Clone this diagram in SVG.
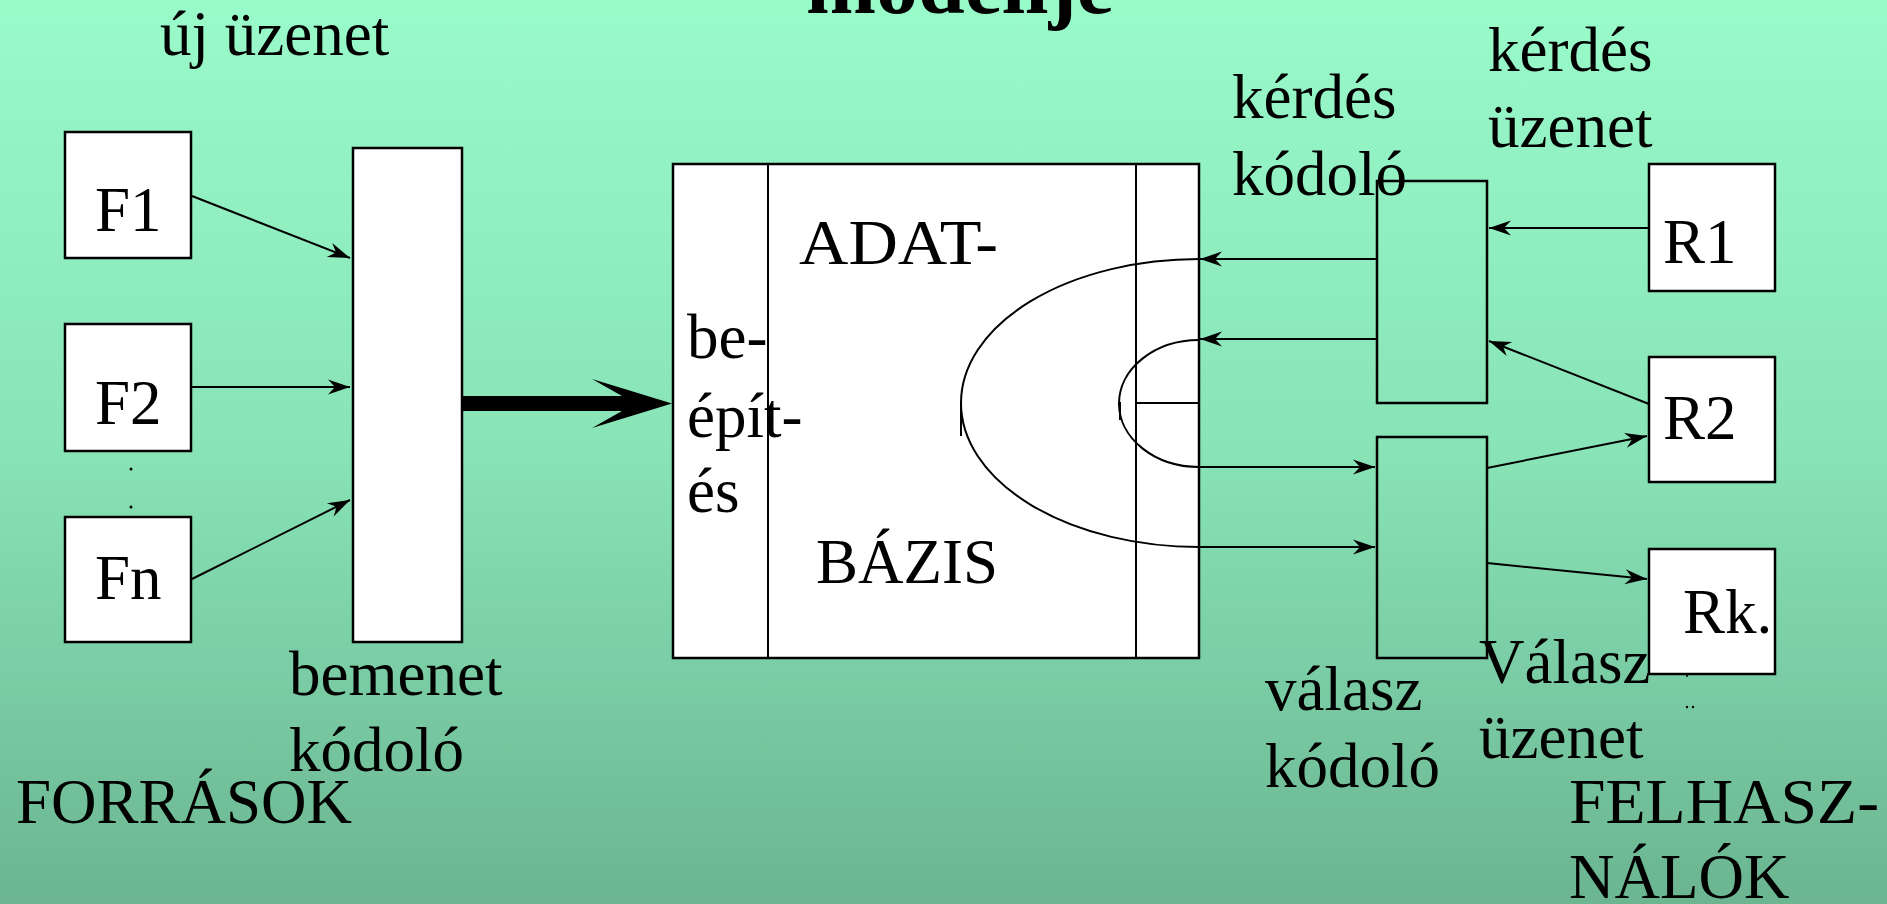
<svg xmlns="http://www.w3.org/2000/svg" width="1887" height="904" viewBox="0 0 1887 904">
<defs>
<linearGradient id="bg" x1="0" y1="0" x2="0" y2="1">
<stop offset="0" stop-color="#99FACA"/>
<stop offset="0.5" stop-color="#88E3B6"/>
<stop offset="1" stop-color="#6BB591"/>
</linearGradient>
<marker id="ah" viewBox="-24 -10 26 20" refX="0" refY="0" markerWidth="26" markerHeight="20" markerUnits="userSpaceOnUse" orient="auto">
<path d="M0,0 L-22,-7.5 L-15,0 L-22,7.5 Z" fill="#000"/>
</marker>
<style>
.t{font-family:"Liberation Serif","Times New Roman",serif;font-size:63px;fill:#000}
.title{font-family:"Liberation Serif","Times New Roman",serif;font-size:84px;font-weight:bold;fill:#000}
.box{fill:#fff;stroke:#000;stroke-width:2.5}
.open{fill:none;stroke:#000;stroke-width:2.5}
.ln{fill:none;stroke:#000;stroke-width:2}
.arr{fill:none;stroke:#000;stroke-width:2;marker-end:url(#ah)}
</style>
</defs>
<rect x="0" y="0" width="1887" height="904" fill="url(#bg)"/>
<text class="title" x="806" y="13">modellje</text>

<g id="label-uj-uzenet"><text class="t" x="160" y="55">új üzenet</text></g>

<g id="F1"><rect class="box" x="65" y="132" width="126" height="126"/><text class="t" x="95" y="231">F1</text></g>
<g id="F2"><rect class="box" x="65" y="324" width="126" height="127"/><text class="t" x="95" y="424">F2</text></g>
<g id="dots-left"><circle cx="131" cy="469" r="1.5" fill="#000"/><circle cx="131" cy="507" r="1.5" fill="#000"/></g>
<g id="Fn"><rect class="box" x="65" y="517" width="126" height="125"/><text class="t" x="95" y="599">Fn</text></g>

<g id="bemenet-kodolo"><rect class="box" x="353" y="148" width="109" height="494"/><text class="t" x="289" y="695">bemenet</text><text class="t" x="289" y="771">kódoló</text></g>

<g id="forrasok"><text class="t" x="16" y="823">FORRÁSOK</text></g>

<g id="adatbazis">
<rect class="box" x="673" y="164" width="526" height="494"/>
<line class="ln" x1="768" y1="164" x2="768" y2="658" stroke-width="2.5"/>
<line class="ln" x1="1136" y1="164" x2="1136" y2="658" stroke-width="2.5"/>
<line class="ln" x1="1136" y1="403" x2="1199" y2="403" stroke-width="2.5"/>
<text class="t" x="799" y="264" textLength="199" lengthAdjust="spacingAndGlyphs">ADAT-</text>
<text class="t" x="816" y="583">BÁZIS</text>
<text class="t" x="687" y="358">be-</text>
<text class="t" x="687" y="437">épít-</text>
<text class="t" x="687" y="512">és</text>
</g>

<g id="kerdes-kodolo"><rect class="open" x="1377" y="181" width="110" height="222"/><text class="t" x="1232" y="118">kérdés</text><text class="t" x="1232" y="195">kódoló</text></g>
<g id="label-kerdes-uzenet"><text class="t" x="1488" y="71">kérdés</text><text class="t" x="1488" y="147">üzenet</text></g>

<g id="valasz-kodolo"><rect class="open" x="1377" y="437" width="110" height="221"/><text class="t" x="1265" y="710">válasz</text><text class="t" x="1265" y="787">kódoló</text></g>
<g id="label-valasz-uzenet"><text class="t" x="1479" y="683">Válasz</text><text class="t" x="1479" y="758">üzenet</text></g>

<g id="R1"><rect class="box" x="1649" y="164" width="126" height="127"/><text class="t" x="1663" y="263">R1</text></g>
<g id="R2"><rect class="box" x="1649" y="357" width="126" height="125"/><text class="t" x="1663" y="439">R2</text></g>
<g id="Rk"><rect class="box" x="1649" y="549" width="126" height="125"/><text class="t" x="1683" y="633">Rk.</text></g>
<g id="dots-right"><circle cx="1687" cy="676" r="1" fill="#000"/><circle cx="1687" cy="707" r="1.2" fill="#000"/><circle cx="1693" cy="707" r="1.2" fill="#000"/></g>

<g id="felhasznalok"><text class="t" x="1569" y="823" textLength="310" lengthAdjust="spacingAndGlyphs">FELHASZ-</text><text class="t" x="1569" y="898">NÁLÓK</text></g>

<g id="connectors">
<line class="arr" x1="192" y1="196" x2="350" y2="258"/>
<line class="arr" x1="192" y1="387" x2="350" y2="387"/>
<line class="arr" x1="192" y1="579" x2="350" y2="500"/>
<path d="M462,396 L622,396 L592,379 L672,403.5 L592,428 L622,411 L462,411 Z" fill="#000"/>
<line class="arr" x1="1649" y1="228" x2="1489" y2="228"/>
<line class="arr" x1="1649" y1="404" x2="1489" y2="341"/>
<line class="arr" x1="1377" y1="259" x2="1200" y2="259"/>
<line class="arr" x1="1377" y1="339" x2="1200" y2="339"/>
<path class="ln" d="M1199,259 A238,144 0 0 0 1199,547"/>
<path class="ln" d="M1199,340 A80,63.5 0 0 0 1199,467"/>
<line class="ln" x1="961" y1="402" x2="961" y2="436" stroke-width="2.5"/>
<line class="ln" x1="1120" y1="402" x2="1120" y2="420" stroke-width="2.5"/>
<line class="arr" x1="1199" y1="467" x2="1375" y2="467"/>
<line class="arr" x1="1199" y1="547" x2="1375" y2="547"/>
<line class="arr" x1="1487" y1="468" x2="1647" y2="436"/>
<line class="arr" x1="1487" y1="563" x2="1647" y2="579"/>
</g>
</svg>
